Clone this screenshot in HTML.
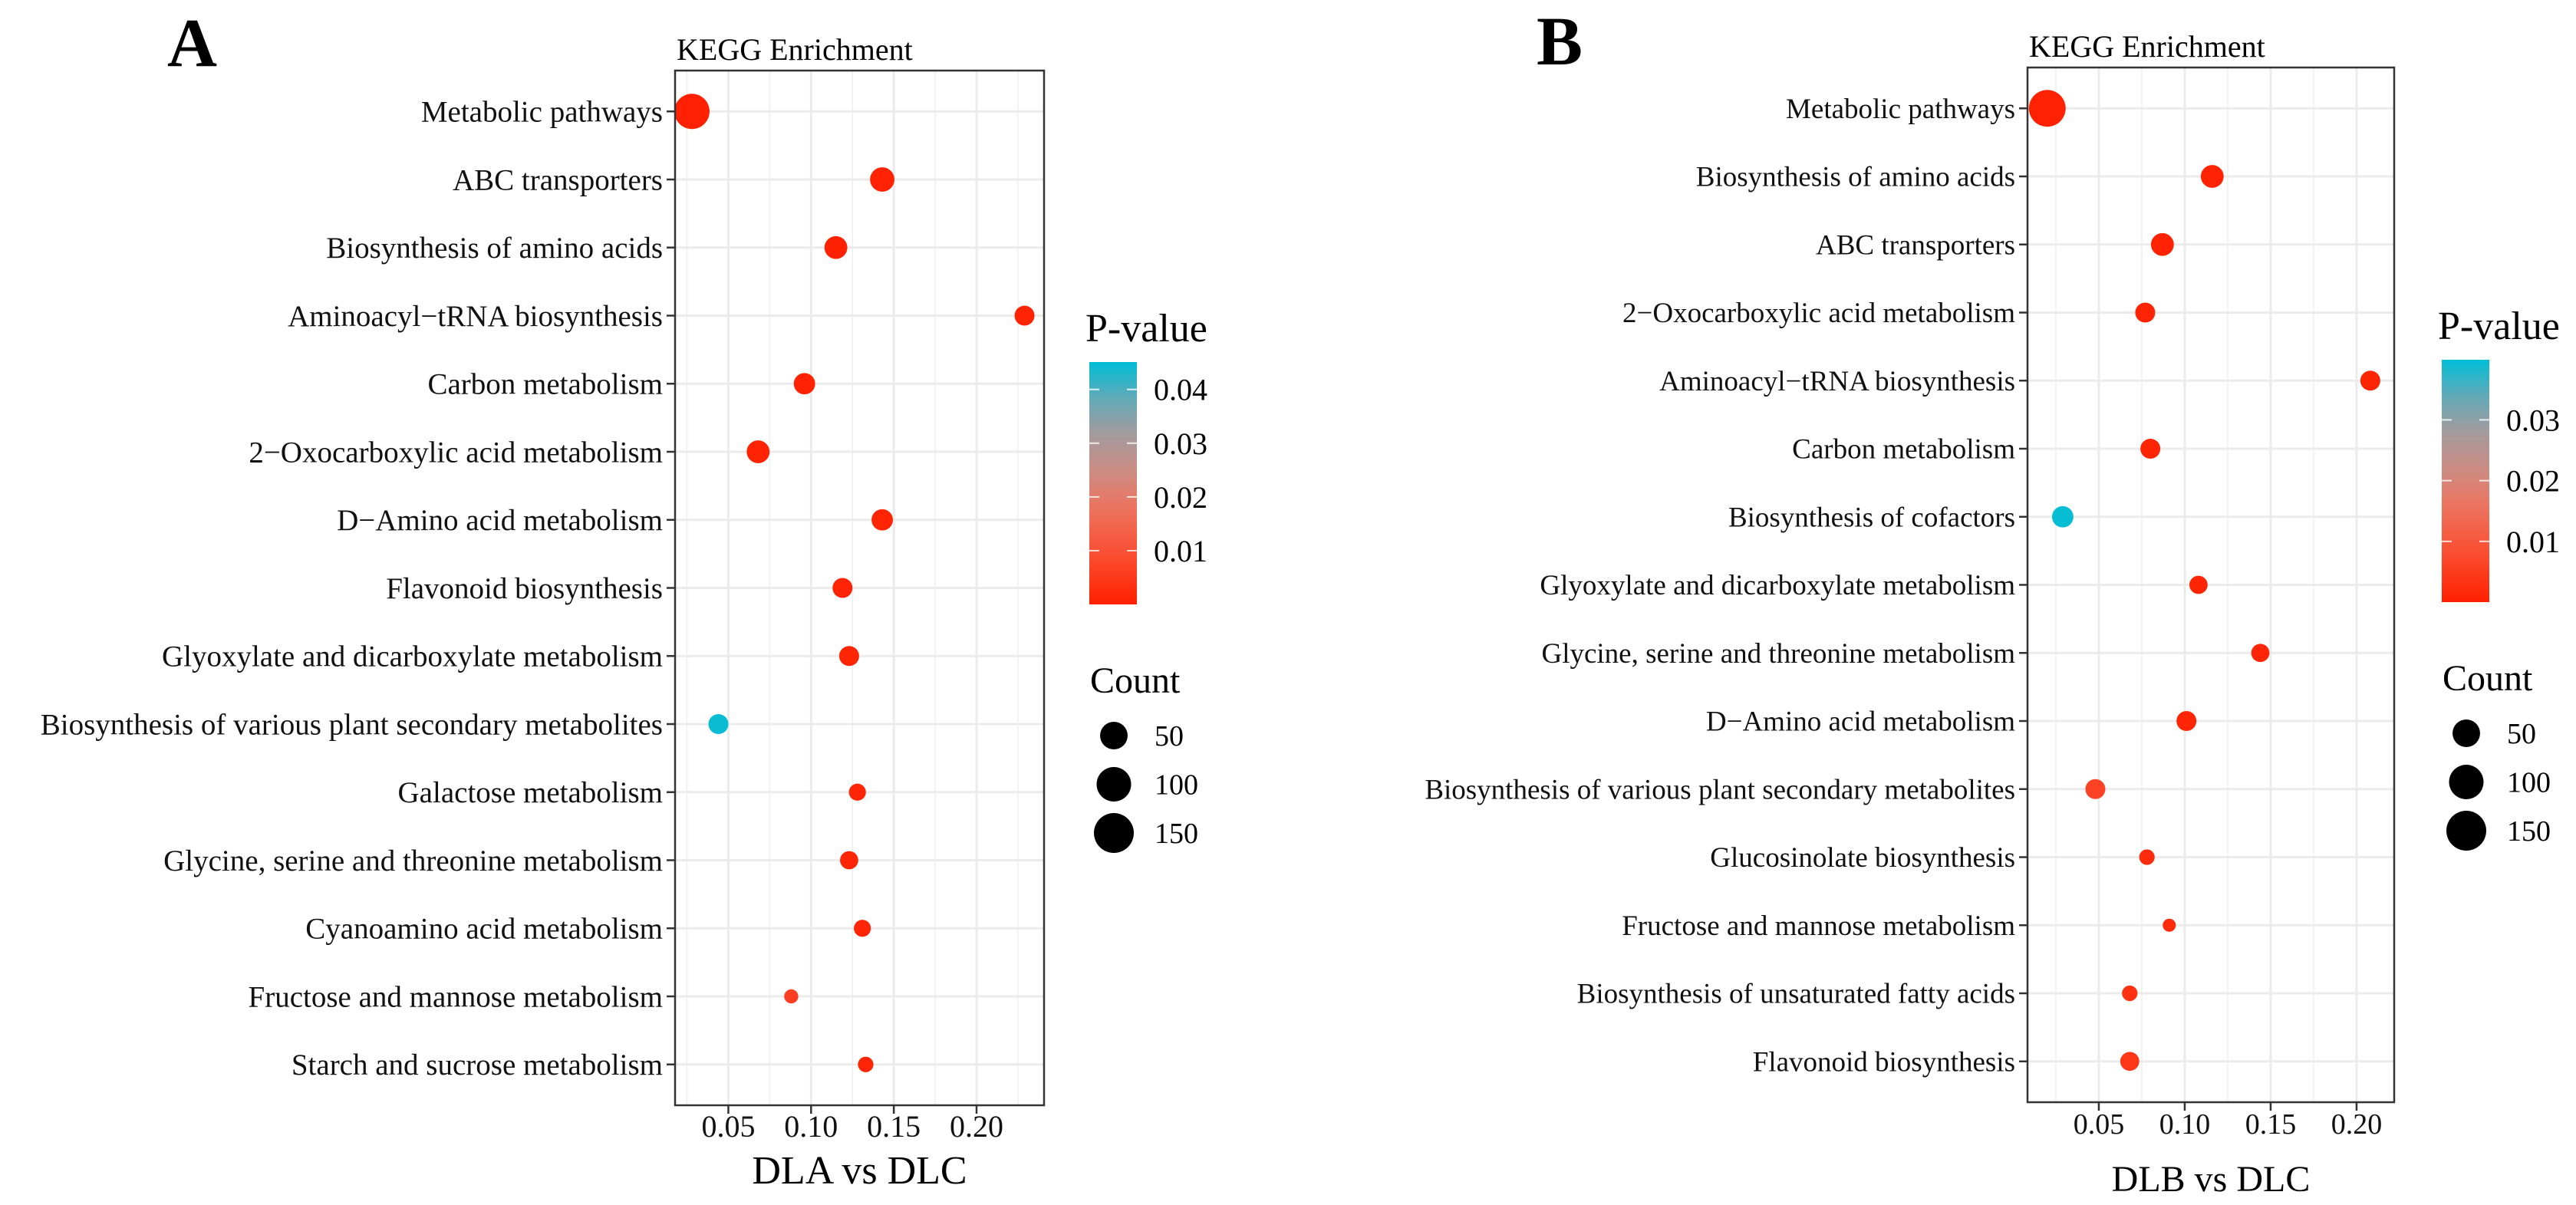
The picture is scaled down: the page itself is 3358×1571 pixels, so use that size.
<!DOCTYPE html>
<html><head><meta charset="utf-8"><style>
html,body{margin:0;padding:0;background:#fff;}
svg{display:block;font-family:"Liberation Serif","Times New Roman",serif;}
</style></head><body>
<svg id="fig" width="3358" height="1571" viewBox="0 0 3358 1571" xmlns="http://www.w3.org/2000/svg">
<rect width="3358" height="1571" fill="#fff"/>
<defs>
<linearGradient id="gradA" x1="0" y1="1" x2="0" y2="0">
<stop offset="0" stop-color="#ff2000"/><stop offset="0.2" stop-color="#fa4d30"/><stop offset="0.4" stop-color="#ec7460"/><stop offset="0.55" stop-color="#cc8c84"/><stop offset="0.7" stop-color="#a49a9c"/><stop offset="0.85" stop-color="#62aab8"/><stop offset="1" stop-color="#00bed6"/>
</linearGradient>
</defs>
<text x="218" y="86" font-size="90" font-weight="bold">A</text>
<text x="2003" y="84" font-size="90" font-weight="bold">B</text>
<g id="panelA"></g>
<g id="panelB"></g>
</svg>
<script>
// ---- Panel A data ----
const catsA = ["Metabolic pathways","ABC transporters","Biosynthesis of amino acids","Aminoacyl\u2212tRNA biosynthesis","Carbon metabolism","2\u2212Oxocarboxylic acid metabolism","D\u2212Amino acid metabolism","Flavonoid biosynthesis","Glyoxylate and dicarboxylate metabolism","Biosynthesis of various plant secondary metabolites","Galactose metabolism","Glycine, serine and threonine metabolism","Cyanoamino acid metabolism","Fructose and mannose metabolism","Starch and sucrose metabolism"];
const ratioA = [0.028,0.143,0.115,0.229,0.096,0.068,0.143,0.119,0.123,0.044,0.128,0.123,0.131,0.088,0.133];
const countA = [106,33,26,15,20,26,20,15,15,15,7,10,7,2,4];
const pvalA = [0.0003,0.0006,0.0004,0.0008,0.0006,0.0007,0.0008,0.0009,0.0010,0.0445,0.0012,0.0011,0.0012,0.006,0.0013];
const xTicksA = [0.05,0.10,0.15,0.20];
const xTickLabelsA = ["0.05","0.10","0.15","0.20"];
const pTicksA = [0.01,0.02,0.03,0.04];
const pTickLabelsA = ["0.01","0.02","0.03","0.04"];

// ---- Panel B data ----
const catsB = ["Metabolic pathways","Biosynthesis of amino acids","ABC transporters","2\u2212Oxocarboxylic acid metabolism","Aminoacyl\u2212tRNA biosynthesis","Carbon metabolism","Biosynthesis of cofactors","Glyoxylate and dicarboxylate metabolism","Glycine, serine and threonine metabolism","D\u2212Amino acid metabolism","Biosynthesis of various plant secondary metabolites","Glucosinolate biosynthesis","Fructose and mannose metabolism","Biosynthesis of unsaturated fatty acids","Flavonoid biosynthesis"];
const ratioB = [0.020,0.116,0.087,0.077,0.208,0.080,0.029,0.108,0.144,0.101,0.048,0.078,0.091,0.068,0.068];
const countB = [120,26,26,15,15,15,20,10,10,15,15,4,1,4,12];
const pvalB = [0.0003,0.0005,0.0006,0.0007,0.0008,0.0008,0.0395,0.0009,0.0010,0.0010,0.006,0.002,0.002,0.003,0.004];
const xTicksB = [0.05,0.10,0.15,0.20];
const xTickLabelsB = ["0.05","0.10","0.15","0.20"];
const pTicksB = [0.01,0.02,0.03];
const pTickLabelsB = ["0.01","0.02","0.03"];

const countLegend = [50,100,150];
const countLegendLabels = ["50","100","150"];

const NS = "http://www.w3.org/2000/svg";
function mk(parent, tag, attrs){
  const e = document.createElementNS(NS, tag);
  for (const k in attrs) e.setAttribute(k, attrs[k]);
  parent.appendChild(e);
  return e;
}
const stops = [[0,[255,32,0]],[0.2,[250,77,48]],[0.4,[236,116,96]],[0.55,[204,140,132]],[0.7,[164,154,156]],[0.85,[98,170,184]],[1,[0,190,214]]];
function colorOf(t){
  t = Math.max(0, Math.min(1, t));
  for (let i=1;i<stops.length;i++){
    if (t <= stops[i][0]){
      const a=stops[i-1], b=stops[i]; const f=(t-a[0])/(b[0]-a[0]);
      const c=a[1].map((v,j)=>Math.round(v+(b[1][j]-v)*f));
      return "rgb("+c.join(",")+")";
    }
  }
  return "rgb(0,190,214)";
}
function radius(c){ return 7 + 1.55*Math.sqrt(c); }

function drawPanel(g, cfg){
  const {L,R,T,B,xmin,xmax,cats,ratio,count,pval,xt,xtl,pt,ptl,pmax} = cfg;
  const xs = v => L + (v - xmin) / (xmax - xmin) * (R - L);
  const step = (B - T) / (cats.length - 1 + 1.2);
  const ys = i => T + (0.6 + i) * step;
  // title
  let t = mk(g,"text",{x:L+2,y:T-14,"font-size":cfg.titleFs});
  
  
  t.textContent = "KEGG Enrichment";
  // minor grid
  const xstep = xt[1]-xt[0];
  for (let v = xt[0]-xstep/2; v <= xmax; v += xstep){
    if (v < xmin) continue;
    const l = mk(g,"line",{x1:xs(v),x2:xs(v),y1:T,y2:B,stroke:"#f0f0f0","stroke-width":1.6});
    
    
  }
  xt.forEach(v=>{
    const l = mk(g,"line",{x1:xs(v),x2:xs(v),y1:T,y2:B,stroke:"#ebebeb","stroke-width":3});
    
    
  });
  cats.forEach((c,i)=>{
    const l = mk(g,"line",{x1:L,x2:R,y1:ys(i),y2:ys(i),stroke:"#ebebeb","stroke-width":3});
    
    
  });
  // points
  cats.forEach((c,i)=>{
    const p = mk(g,"circle",{cx:xs(ratio[i]),cy:ys(i),r:radius(count[i]),fill:colorOf(pval[i]/pmax)});
    
    
  });
  // border
  const bd = mk(g,"rect",{x:L,y:T,width:R-L,height:B-T,fill:"none",stroke:"#333","stroke-width":2.5});
  
  
  // y ticks + labels
  cats.forEach((c,i)=>{
    const tk = mk(g,"line",{x1:L-11,x2:L,y1:ys(i),y2:ys(i),stroke:"#333","stroke-width":2.5});
    
    
    const tx = mk(g,"text",{x:L-16,y:ys(i)+cfg.yFs*0.34,"font-size":cfg.yFs,"text-anchor":"end",fill:"#111"});
    
    
    tx.textContent = c;
  });
  // x ticks
  xt.forEach((v,i)=>{
    const tk = mk(g,"line",{x1:xs(v),x2:xs(v),y1:B,y2:B+11,stroke:"#333","stroke-width":2.5});
    
    
    const tx = mk(g,"text",{x:xs(v),y:cfg.xtY,"font-size":cfg.xtFs,"text-anchor":"middle",fill:"#111"});
    
    
    tx.textContent = xtl[i];
  });
  const xt2 = mk(g,"text",{x:(L+R)/2,y:cfg.xTitleY,"font-size":cfg.xTitleFs,"text-anchor":"middle"});
  
  
  xt2.textContent = cfg.xTitle;
  // colour legend
  const cb = cfg.cb;
  const lt = mk(g,"text",{x:cb.x-5,y:cb.y-27,"font-size":52});
  
  
  lt.textContent = "P-value";
  const bar = mk(g,"rect",{x:cb.x,y:cb.y,width:cb.w,height:cb.h,fill:"url(#gradA)"});
  
  
  const ps = v => cb.y + cb.h - v / pmax * cb.h;
  pt.forEach((v,i)=>{
    const a = mk(g,"line",{x1:cb.x,x2:cb.x+13,y1:ps(v),y2:ps(v),stroke:"#fff","stroke-width":2,"stroke-opacity":0.8});
    
    
    const b = mk(g,"line",{x1:cb.x+cb.w-13,x2:cb.x+cb.w,y1:ps(v),y2:ps(v),stroke:"#fff","stroke-width":2,"stroke-opacity":0.8});
    
    
    const tx = mk(g,"text",{x:cb.x+cb.w+22,y:ps(v)+14,"font-size":40});
    
    
    tx.textContent = ptl[i];
  });
  // size legend
  const ct = mk(g,"text",{x:cb.x+1,y:cb.y+cb.h+115,"font-size":48});
  
  
  ct.textContent = "Count";
  countLegend.forEach((c,i)=>{
    const cy = cb.y + cb.h + 171 + i*63.5;
    const k = mk(g,"circle",{cx:cb.x+32,cy:cy,r:radius(c),fill:"#000"});
    
    
    const tx = mk(g,"text",{x:cb.x+cb.w+23,y:cy+13,"font-size":38});
    
    
    tx.textContent = countLegendLabels[i];
  });
}

drawPanel(document.getElementById('panelA'), {
  L:880,R:1361,T:92,B:1441,xmin:0.0178,xmax:0.2408,
  cats:catsA,ratio:ratioA,count:countA,pval:pvalA,xt:xTicksA,xtl:xTickLabelsA,pt:pTicksA,ptl:pTickLabelsA,pmax:0.0451,
  titleFs:40,yFs:39,xtFs:40,xtY:1482,xTitleFs:52,xTitleY:1543,xTitle:"DLA vs DLC",
  cb:{x:1420,y:472,w:62,h:316}
});
drawPanel(document.getElementById('panelB'), {
  L:2643,R:3121,T:88,B:1437,xmin:0.0085,xmax:0.2219,
  cats:catsB,ratio:ratioB,count:countB,pval:pvalB,xt:xTicksB,xtl:xTickLabelsB,pt:pTicksB,ptl:pTickLabelsB,pmax:0.0399,
  titleFs:40,yFs:37,xtFs:38,xtY:1478,xTitleFs:48,xTitleY:1553,xTitle:"DLB vs DLC",
  cb:{x:3183,y:469,w:62,h:316}
});
</script>
</body></html>
